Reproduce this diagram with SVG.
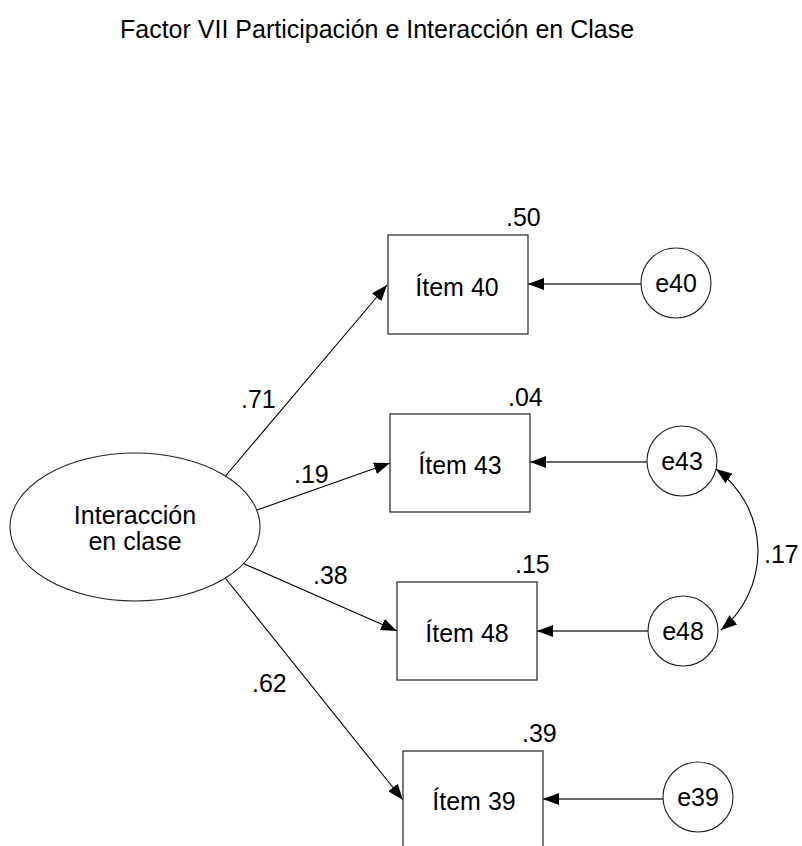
<svg xmlns="http://www.w3.org/2000/svg" width="802" height="846" viewBox="0 0 802 846">
  <style>
    text { font-family: "Liberation Sans", Arial, sans-serif; fill: #000; font-size: 25px; }
    .node { fill: #fff; stroke: #333; stroke-width: 1.3; }
    .err { fill: #fff; stroke: #222; stroke-width: 1.1; }
    .path { stroke: #000; stroke-width: 1.1; fill: none; }
    .resid { stroke: #333; stroke-width: 1.3; fill: none; }
  </style>
  <defs>
    <marker id="arrow" viewBox="0 0 16 12" refX="16" refY="6" markerWidth="16" markerHeight="12" markerUnits="userSpaceOnUse" orient="auto-start-reverse">
      <path d="M0,0 L16,6 L0,12 Z" fill="#000"/>
    </marker>
  </defs>

  <text x="120" y="38">Factor VII Participación e Interacción en Clase</text>

  <g id="connectors">
    <!-- factor loadings -->
    <line class="path" x1="223" y1="479" x2="387" y2="285" marker-end="url(#arrow)"/>
    <line class="path" x1="257" y1="510" x2="390" y2="463" marker-end="url(#arrow)"/>
    <line class="path" x1="240" y1="562" x2="397" y2="631" marker-end="url(#arrow)"/>
    <line class="path" x1="222" y1="574" x2="403" y2="800" marker-end="url(#arrow)"/>
    <!-- residuals -->
    <line class="resid" x1="641" y1="284" x2="528" y2="284" marker-end="url(#arrow)"/>
    <line class="resid" x1="647" y1="462" x2="530" y2="462" marker-end="url(#arrow)"/>
    <line class="resid" x1="648" y1="631" x2="537" y2="631" marker-end="url(#arrow)"/>
    <line class="resid" x1="663" y1="799" x2="543" y2="799" marker-end="url(#arrow)"/>
    <!-- covariance e43 <-> e48 -->
    <path class="path" d="M716,469 A102,102 0 0 1 721,630" marker-start="url(#arrow)" marker-end="url(#arrow)"/>
    <text x="241" y="408">.71</text>
    <text x="294" y="483">.19</text>
    <text x="313" y="584">.38</text>
    <text x="252" y="692">.62</text>
    <text x="764" y="563">.17</text>
  </g>

  <g id="factor">
    <ellipse class="err" cx="135" cy="527" rx="125" ry="74"/>
    <text x="135" y="524" text-anchor="middle">Interacción</text>
    <text x="135" y="550" text-anchor="middle">en clase</text>
  </g>

  <g id="item40">
    <rect class="node" x="388" y="235" width="140" height="99"/>
    <text x="457" y="296" text-anchor="middle">Ítem 40</text>
    <text x="506" y="226">.50</text>
  </g>
  <g id="item43">
    <rect class="node" x="390" y="414" width="140" height="98"/>
    <text x="460" y="474" text-anchor="middle">Ítem 43</text>
    <text x="508" y="406">.04</text>
  </g>
  <g id="item48">
    <rect class="node" x="397" y="582" width="140" height="98"/>
    <text x="467" y="642" text-anchor="middle">Ítem 48</text>
    <text x="515" y="573">.15</text>
  </g>
  <g id="item39">
    <rect class="node" x="403" y="751" width="140" height="100"/>
    <text x="474" y="810" text-anchor="middle">Ítem 39</text>
    <text x="522" y="742">.39</text>
  </g>

  <g id="e40">
    <circle class="err" cx="676" cy="283" r="35"/>
    <text x="676" y="292" text-anchor="middle">e40</text>
  </g>
  <g id="e43">
    <circle class="err" cx="682" cy="461" r="35"/>
    <text x="682" y="470" text-anchor="middle">e43</text>
  </g>
  <g id="e48">
    <circle class="err" cx="683" cy="631" r="35"/>
    <text x="683" y="640" text-anchor="middle">e48</text>
  </g>
  <g id="e39">
    <circle class="err" cx="698" cy="797" r="35"/>
    <text x="698" y="806" text-anchor="middle">e39</text>
  </g>
</svg>
